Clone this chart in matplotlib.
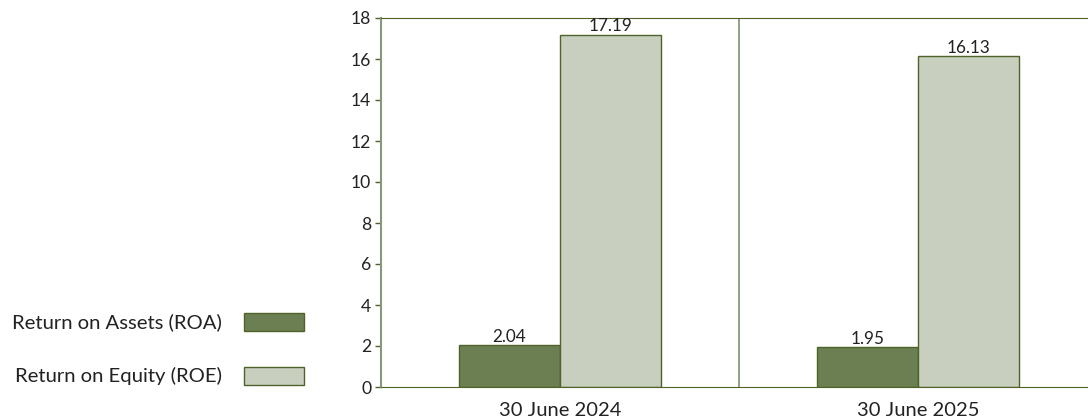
import matplotlib
matplotlib.use("Agg")
import matplotlib.pyplot as plt
from matplotlib.patches import Rectangle
import numpy as np

categories = ["30 June 2024", "30 June 2025"]
series_names = ["Return on Assets (ROA)", "Return on Equity (ROE)"]
roa = [2.04, 1.95]
roe = [17.19, 16.13]
y_ticks = [0, 2, 4, 6, 8, 10, 12, 14, 16, 18]

c_roa = "#6b7f52"
c_roe = "#c8cfbf"
edge = "#4f6228"
light_line = "#8a9878"

plt.rcParams["font.family"] = ["Lato", "DejaVu Sans"]

W, H = 1088, 418
fig = plt.figure(figsize=(W / 100, H / 100), dpi=100)
left, right, top, bottom = 381, 1097, 18, 387
ax = fig.add_axes([left / W, 1 - bottom / H, (right - left) / W, (bottom - top) / H])

x = np.arange(len(categories))
bw = 0.282
b1 = ax.bar(x - bw / 2, roa, bw, color=c_roa, edgecolor=edge, linewidth=1)
b2 = ax.bar(x + bw / 2, roe, bw, color=c_roe, edgecolor=edge, linewidth=1)

for bars, vals in ((b1, roa), (b2, roe)):
    for b, v in zip(bars, vals):
        ax.text(b.get_x() + b.get_width() / 2, v + 0.02, f"{v:.2f}",
                ha="center", va="bottom", fontsize=12.3, color="#222222")

ax.set_xlim(-0.5, 1.5)
ax.set_ylim(0, 18)
ax.set_yticks(y_ticks)
ax.set_xticks(x)
ax.set_xticklabels(categories, fontsize=14.5, color="#222222")
ax.tick_params(axis="x", length=0, pad=11)
ax.tick_params(axis="y", length=4, width=1, color=edge, labelsize=12.6,
               labelcolor="#222222", pad=3)

ax.axvline(0.5, color=light_line, linewidth=1.3)
ax.spines["left"].set_color(light_line)
ax.spines["left"].set_linewidth(1.5)
ax.spines["top"].set_color(edge)
ax.spines["bottom"].set_color(edge)
ax.spines["right"].set_visible(False)

# legend drawn as label + swatch rows
for name, col, yc in ((series_names[0], c_roa, 322), (series_names[1], c_roe, 376)):
    fig.text(222 / W, 1 - yc / H, name, ha="right", va="center",
             fontsize=14.6, color="#222222")
    fig.patches.append(Rectangle((244 / W, 1 - (yc + 9) / H), 60 / W, 18 / H,
                                 transform=fig.transFigure, facecolor=col,
                                 edgecolor=edge, linewidth=1))

fig.savefig("out.png", dpi=100)
